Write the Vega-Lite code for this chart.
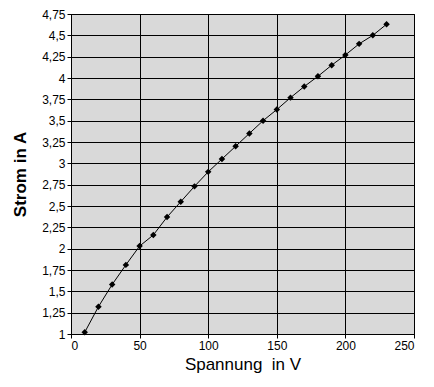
{
  "$schema": "https://vega.github.io/schema/vega-lite/v6.json",
  "autosize": "none",
  "width": 343,
  "height": 320,
  "padding": {"left": 71, "top": 14, "right": 20, "bottom": 53},
  "background": "white",
  "view": {"fill": "#D9D9D9", "stroke": "black", "strokeWidth": 1},
  "config": {
    "font": "Liberation Sans",
    "axis": {
      "gridColor": "black", "gridOpacity": 1, "gridWidth": 1,
      "domainColor": "black", "tickColor": "black", "tickSize": 4,
      "labelColor": "black", "labelFontSize": 12, "labelFont": "Liberation Sans",
      "titleColor": "black", "titleFontSize": 17, "titleFont": "Liberation Sans", "titleFontWeight": "normal"
    }
  },
  "data": {"values": [
    {"u": 10, "i": 1.02},
    {"u": 20, "i": 1.32},
    {"u": 30, "i": 1.58},
    {"u": 40, "i": 1.81},
    {"u": 50, "i": 2.03},
    {"u": 60, "i": 2.16},
    {"u": 70, "i": 2.37},
    {"u": 80, "i": 2.55},
    {"u": 90, "i": 2.73},
    {"u": 100, "i": 2.9},
    {"u": 110, "i": 3.05},
    {"u": 120, "i": 3.2},
    {"u": 130, "i": 3.35},
    {"u": 140, "i": 3.5},
    {"u": 150, "i": 3.63},
    {"u": 160, "i": 3.77},
    {"u": 170, "i": 3.9},
    {"u": 180, "i": 4.02},
    {"u": 190, "i": 4.15},
    {"u": 200, "i": 4.27},
    {"u": 210, "i": 4.4},
    {"u": 220, "i": 4.5},
    {"u": 230, "i": 4.63}
  ]},
  "encoding": {
    "x": {"field": "u", "type": "quantitative",
      "scale": {"domain": [0, 250], "nice": false, "zero": false},
      "axis": {"values": [0, 50, 100, 150, 200, 250], "title": "Spannung\u00a0 in V", "titlePadding": 5, "labelPadding": 2, "grid": true}},
    "y": {"field": "i", "type": "quantitative",
      "scale": {"domain": [1, 4.75], "nice": false, "zero": false},
      "axis": {"values": [1, 1.25, 1.5, 1.75, 2, 2.25, 2.5, 2.75, 3, 3.25, 3.5, 3.75, 4, 4.25, 4.5, 4.75],
        "labelExpr": "replace(format(datum.value, '.2~f'), '.', ',')",
        "title": "Strom in A", "titleFontWeight": "bold", "titlePadding": 12, "labelPadding": 2, "grid": true}}
  },
  "layer": [
    {"mark": {"type": "line", "color": "black", "strokeWidth": 1}},
    {"mark": {"type": "point", "shape": "diamond", "filled": true, "color": "black", "opacity": 1, "size": 42}}
  ]
}
